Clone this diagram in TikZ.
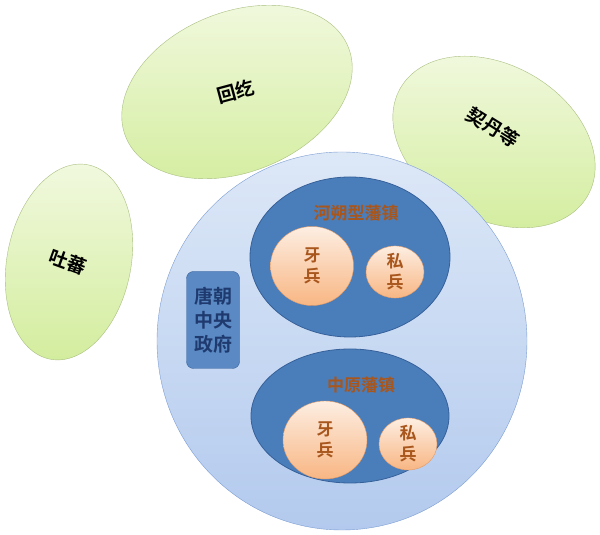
\documentclass[tikz,border=0pt]{standalone}
\usepackage{fontspec}
\setmainfont{Noto Sans CJK SC}[BoldFont={Noto Sans CJK SC Bold}]
\usetikzlibrary{shapes.geometric}
\definecolor{tribetop}{HTML}{F2F9E0}
\definecolor{tribebot}{HTML}{D3ED9E}
\definecolor{tribeline}{HTML}{A9BF80}
\definecolor{tangtop}{HTML}{DDE8F7}
\definecolor{tangbot}{HTML}{B3CAEE}
\definecolor{tangline}{HTML}{7C9DD2}
\definecolor{fanblue}{HTML}{4A7EBB}
\definecolor{fanline}{HTML}{36609A}
\definecolor{bingtop}{HTML}{FDEEE2}
\definecolor{bingbot}{HTML}{F8B683}
\definecolor{bingline}{HTML}{E29A66}
\definecolor{bingtext}{HTML}{A8561C}
\definecolor{govtext}{HTML}{1F3A6E}
\tikzset{
 tribe/.style={ellipse,draw=tribeline,top color=tribetop,bottom color=tribebot,inner sep=0pt},
 tang/.style={ellipse,draw=tangline,top color=tangtop,bottom color=tangbot,inner sep=0pt},
 fanzhen/.style={ellipse,draw=fanline,fill=fanblue,line width=0.8pt,inner sep=0pt},
 bing/.style={ellipse,draw=bingline,top color=bingtop,bottom color=bingbot,inner sep=0pt,
  text=bingtext,font=\bfseries\fontsize{17}{21}\selectfont,align=center},
 tribename/.style={font=\bfseries\fontsize{19}{21}\selectfont},
 fantitle/.style={text=bingtext,font=\bfseries\fontsize{17}{19}\selectfont}
}
\begin{document}
\begin{tikzpicture}[x=1pt,y=1pt]
\useasboundingbox (0,0) rectangle (600,535);
% tribes around
\node[tribe,minimum width=240,minimum height=160,rotate=22] (huihe) at (237,443) {};
\node[tribename,rotate=15] (huihe text) at (236,443) {回纥};
\node[tribe,minimum width=216,minimum height=154,rotate=-30] (qidan) at (494,393) {};
\node[tribename,rotate=-32] (qidan text) at (493,408) {契丹等};
\node[tribe,minimum width=124,minimum height=198,rotate=-11] (tubo) at (69,273) {};
\node[tribename,rotate=-20] (tubo text) at (68,273) {吐蕃};
% tang empire
\node[tang,minimum width=370,minimum height=378] (tang) at (342,194) {};
\node[fanzhen,minimum width=200,minimum height=160] (hebei) at (350,278) {};
\node[fanzhen,minimum width=198,minimum height=134] (zhongyuan) at (350,119) {};
\node[fantitle] (hebei title) at (356,322) {河朔型藩镇};
\node[fantitle] (zhongyuan title) at (361,150) {中原藩镇};
\node[bing,minimum width=83,minimum height=79] (hebei yabing) at (312,269) {牙\\兵};
\node[bing,minimum width=58,minimum height=52] (hebei sibing) at (395,263) {私\\兵};
\node[bing,minimum width=84,minimum height=78] (zhongyuan yabing) at (325,95) {牙\\兵};
\node[bing,minimum width=58,minimum height=52] (zhongyuan sibing) at (408,91) {私\\兵};
% central government
\node[draw=fanline,fill=fanblue!85!tangbot,rounded corners=7pt,minimum width=53,minimum height=97,
 inner sep=0pt,text=govtext,align=center,font=\bfseries\fontsize{19}{24}\selectfont] (court) at (213,215)
 {唐朝\\中央\\政府};
\end{tikzpicture}
\end{document}
